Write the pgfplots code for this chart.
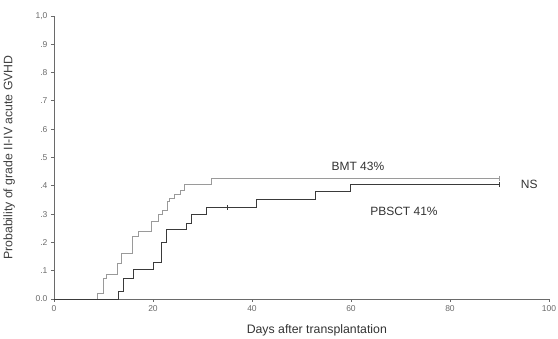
\documentclass[border=0pt]{standalone}
\usepackage{pgfplots}
\pgfplotsset{compat=1.18}
\usepackage{fontspec}
\setmainfont{Liberation Sans}
\definecolor{bmtc}{HTML}{9A9A9A}
\definecolor{pbc}{HTML}{3A3A3A}
\definecolor{axc}{HTML}{6A6A6A}
\begin{document}
\begin{tikzpicture}
\begin{axis}[
  scale only axis,
  width=495pt, height=283pt,
  xmin=0, xmax=100, ymin=0, ymax=1,
  axis lines*=left,
  axis line style={axc, line width=0.9pt},
  xtick={0,20,40,60,80,100},
  ytick={0,0.1,0.2,0.3,0.4,0.5,0.6,0.7,0.8,0.9,1.0},
  yticklabels={0.0,.1,.2,.3,.4,.5,.6,.7,.8,.9,{1,0}},
  tick align=outside,
  major tick length=3pt,
  tick style={axc, line width=0.9pt},
  /pgf/number format/assume math mode=true,
  ticklabel style={font=\fontsize{8.5}{9}\selectfont, text=axc},
  xlabel={Days after transplantation},
  ylabel={Probability of grade II-IV acute GVHD},
  xlabel style={at={(axis description cs:0.531,-0.11)}, anchor=center, font=\fontsize{12.3}{14}\selectfont, text=black!80},
  ylabel style={at={(axis description cs:-0.072,0.5)}, anchor=south, font=\fontsize{12.3}{14}\selectfont, text=black!75},
  clip=false,
]
% BMT
\addplot[const plot, color=bmtc, line width=0.9pt] coordinates {
(0,0) (8.7,0.02) (10,0.073) (10.5,0.087) (12.9,0.126) (13.7,0.16) (15.9,0.22) (17,0.238) (19.7,0.273) (21.1,0.297) (21.9,0.314) (22.9,0.344) (23.4,0.356) (24.4,0.371) (25.5,0.385) (26.3,0.406) (31.9,0.426) (90,0.426)};
% PBSCT
\addplot[const plot, color=pbc, line width=0.9pt] coordinates {
(0,0) (13.0,0.025) (14.0,0.073) (16.0,0.105) (20.1,0.128) (21.8,0.2) (22.7,0.244) (26.8,0.267) (27.8,0.297) (30.8,0.323) (40.9,0.352) (52.9,0.379) (59.8,0.405) (90,0.405)};
% censor marks
\addplot[only marks, mark=|, mark size=2.5pt, color=pbc, mark options={line width=0.7pt}] coordinates {(35.1,0.323) (90,0.405)};
\addplot[only marks, mark=|, mark size=2.5pt, color=bmtc, mark options={line width=0.7pt}] coordinates {(90,0.426)};
\node[font=\fontsize{12}{14}\selectfont, text=black!80] at (axis cs:61.4,0.47) {BMT 43\%};
\node[font=\fontsize{12}{14}\selectfont, text=black!80] at (axis cs:70.7,0.31) {PBSCT 41\%};
\node[font=\fontsize{12}{14}\selectfont, text=black!80] at (axis cs:96,0.405) {NS};
\end{axis}
\pgfresetboundingbox
\path ([xshift=-54pt,yshift=-40pt]current axis.south west) rectangle ([xshift=9pt,yshift=16pt]current axis.north east);
\end{tikzpicture}
\end{document}
